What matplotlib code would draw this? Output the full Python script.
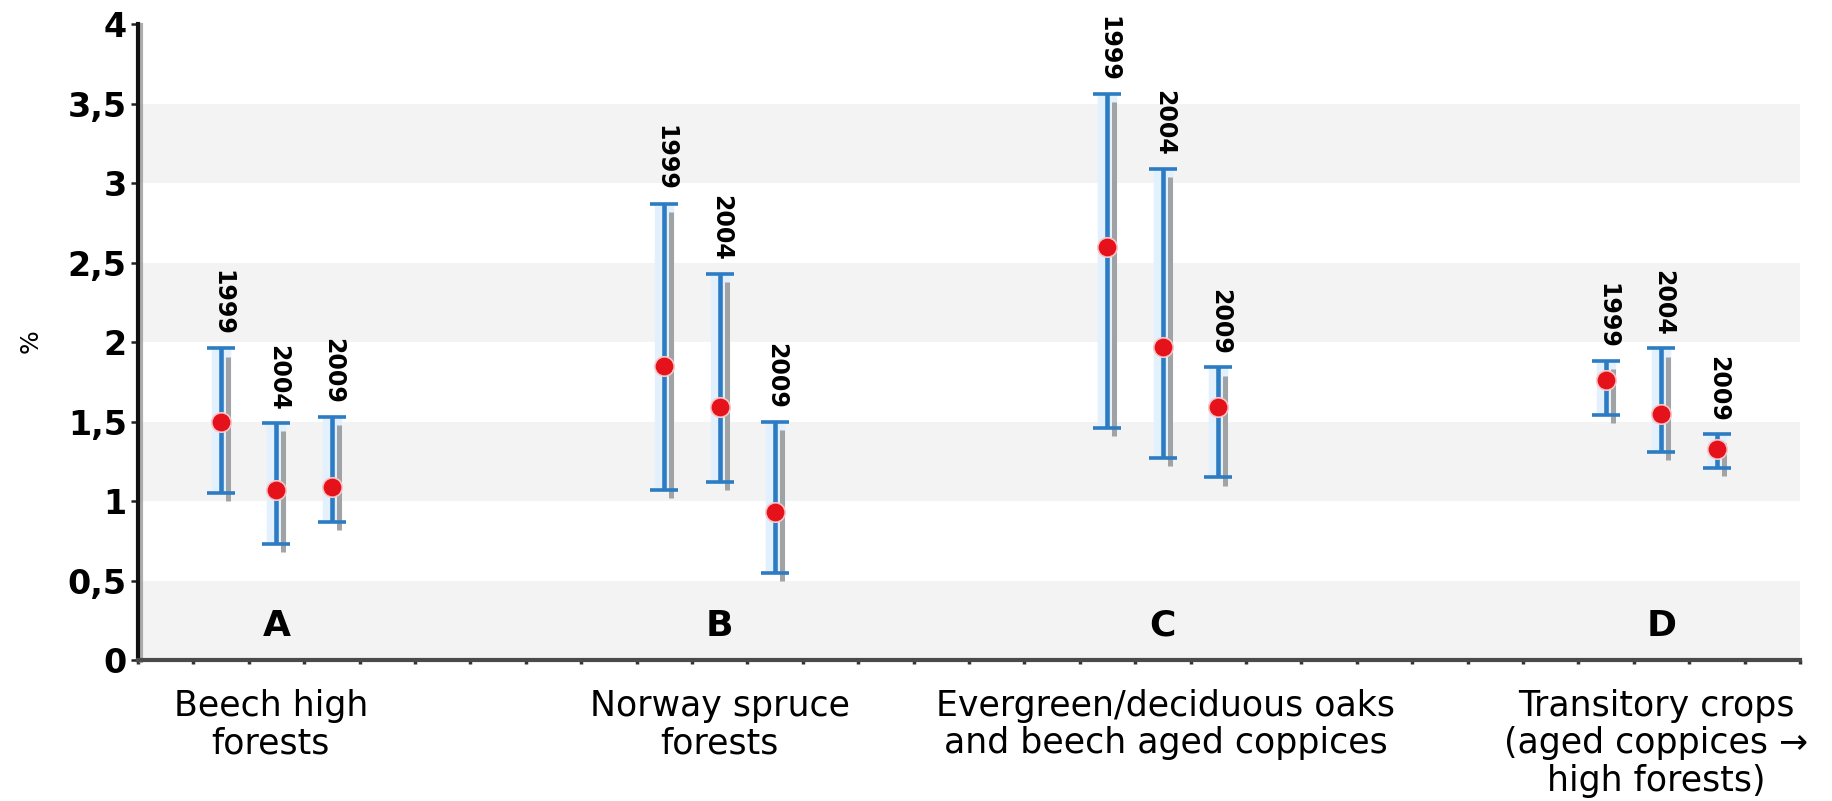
import numpy as np
import matplotlib
matplotlib.use("Agg")
import matplotlib.pyplot as plt
import matplotlib.patheffects as pe
import matplotlib.transforms as mtransforms

# forest types, survey years and the interval for each (mean, lower, upper), in %
letters = ["A", "B", "C", "D"]
categories = ["Beech high\nforests",
              "Norway spruce\nforests",
              "Evergreen/deciduous oaks\nand beech aged coppices",
              "Transitory crops\n(aged coppices \u2192\nhigh forests)"]
years = ["1999", "2004", "2009"]

mean_vals = [[1.50, 1.07, 1.09],
             [1.85, 1.59, 0.93],
             [2.60, 1.97, 1.59],
             [1.76, 1.55, 1.33]]
low_vals = [[1.05, 0.73, 0.87],
            [1.07, 1.12, 0.55],
            [1.46, 1.27, 1.15],
            [1.54, 1.31, 1.21]]
high_vals = [[1.96, 1.49, 1.53],
             [2.87, 2.43, 1.50],
             [3.56, 3.09, 1.84],
             [1.88, 1.96, 1.42]]

yticks = [0, 0.5, 1, 1.5, 2, 2.5, 3, 3.5, 4]
ytick_labels = ["0", "0,5", "1", "1,5", "2", "2,5", "3", "3,5", "4"]

group_pos = [2.5, 10.5, 18.5, 27.5]
label_pos = [2.4, 10.5, 18.55, 27.4]

blue = "#2d7cc3"
shadow = [pe.SimpleLineShadow(offset=(5, -6), shadow_color="#9a9a9a", alpha=0.9,
                              linewidth=3.6),
          pe.Normal()]

fig = plt.figure(figsize=(18.32, 8.01), dpi=100)
ax = fig.add_axes([0.0753, 0.176, 0.9072, 0.794])

# alternating bands
for y0 in [0, 1, 2, 3]:
    ax.axhspan(y0, y0 + 0.5, color="#f3f3f3", zorder=0, lw=0)

for g in range(len(letters)):
    xs = np.array(group_pos[g]) + np.array([-1, 0, 1])
    m = np.array(mean_vals[g])
    lo = np.array(low_vals[g])
    hi = np.array(high_vals[g])
    # faint halo around the bars
    ax.vlines(xs, lo, hi, color="#e2f1fd", lw=14, zorder=1)
    eb = ax.errorbar(xs, (lo + hi) / 2, yerr=(hi - lo) / 2, fmt="none",
                     ecolor=blue, elinewidth=3.3, capsize=10, capthick=2.6,
                     zorder=3)
    for art in eb.lines[2]:
        art.set_path_effects(shadow)
    ax.plot(xs, m, "o", color="#e5121b", markersize=14,
            markeredgecolor="#f6c6c6", markeredgewidth=1.2, zorder=5)
    for x, h, yr in zip(xs, hi, years):
        ax.annotate(yr, (x, h), xytext=(1, 9), textcoords="offset points",
                    rotation=270, ha="center", va="bottom", fontsize=17,
                    fontweight="bold", zorder=6)
    ax.text(group_pos[g], 0.215, letters[g], ha="center", va="center",
            fontsize=26, fontweight="bold", zorder=6)

# category names below the axis
trans = mtransforms.blended_transform_factory(ax.transData, ax.transAxes)
for x, name in zip(label_pos, categories):
    ax.annotate(name, (x, 0), xycoords=trans, xytext=(0, -21),
                textcoords="offset points", ha="center", va="top",
                fontsize=25, linespacing=1.12, annotation_clip=False)

ax.set_xlim(0, 30)
ax.set_ylim(0, 4)
ax.set_yticks(yticks)
ax.set_yticklabels(ytick_labels, fontsize=24, fontweight="bold")
ax.set_xticks(np.arange(0, 31))
ax.set_xticklabels([])
ax.tick_params(axis="y", length=5, width=1.8, pad=3, color="#222222")
ax.tick_params(axis="x", length=3, width=2.5, color="#333333")

ax.spines["top"].set_visible(False)
ax.spines["right"].set_visible(False)
ax.spines["left"].set_linewidth(3)
ax.spines["left"].set_color("#111111")
ax.spines["left"].set_path_effects([pe.SimpleLineShadow(offset=(2, -1), shadow_color="#999999", alpha=0.8), pe.Normal()])
ax.spines["bottom"].set_linewidth(3)
ax.spines["bottom"].set_color("#4a4a4a")
ax.patch.set_facecolor("white")

fig.text(31 / 1832, 1 - 341 / 801, "%", rotation=90, ha="center", va="center",
         fontsize=18)

fig.savefig("out.png", dpi=100)
